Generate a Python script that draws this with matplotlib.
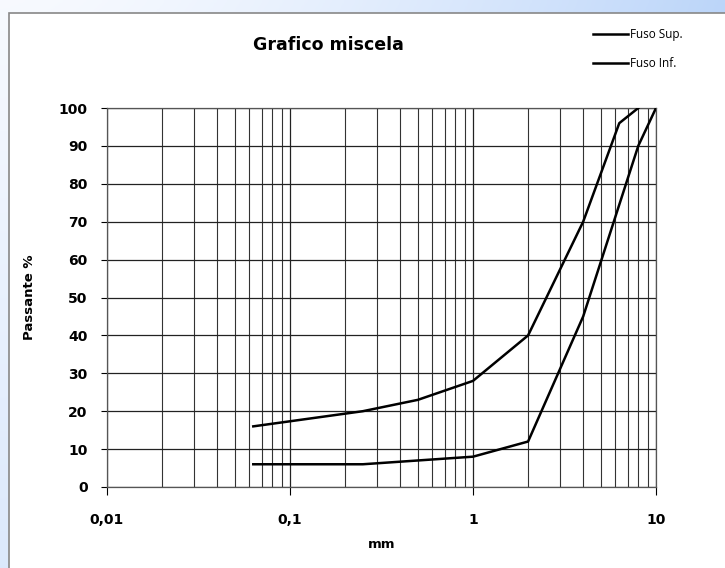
import numpy as np
import matplotlib.pyplot as plt
from matplotlib.ticker import FixedLocator, NullFormatter
from matplotlib.patches import Rectangle

# Fusi granulometrici (mm, passante %)
sup_mm = [0.063, 0.25, 0.5, 1, 2, 4, 6.3, 8]
sup_pass = [16, 20, 23, 28, 40, 70, 96, 100]
inf_mm = [0.063, 0.25, 0.5, 1, 2, 4, 8, 10]
inf_pass = [6, 6, 7, 8, 12, 45, 90, 100]

x_ticks = [0.01, 0.1, 1, 10]
x_labels = ["0,01", "0,1", "1", "10"]
y_ticks = list(range(0, 101, 10))

W, H = 725, 568
fig = plt.figure(figsize=(W / 100, H / 100), dpi=100)

# sfondo sfumato
bg = fig.add_axes([0, 0, 1, 1], zorder=-10)
gx = np.linspace(0, 1, 200)[None, :]
gy = np.linspace(0, 1, 200)[:, None]
t = np.clip(0.75 * gx ** 1.5 + 0.35 * gy, 0, 1)
c0 = np.array([0.97, 0.98, 1.0])
c1 = np.array([0.66, 0.79, 0.97])
img = c0[None, None, :] * (1 - t[..., None]) + c1[None, None, :] * t[..., None]
bg.imshow(img, aspect="auto", extent=[0, 1, 0, 1], origin="upper")
bg.add_patch(Rectangle((9 / W, -0.05), 1.1, 1.05 - 13 / H, facecolor="white",
                       edgecolor="#888888", linewidth=1.2))
bg.set_xlim(0, 1)
bg.set_ylim(0, 1)
bg.axis("off")

ax = fig.add_axes([107 / W, (H - 487) / H, (656 - 107) / W, (487 - 108) / H])
ax.set_xscale("log")
ax.set_xlim(0.01, 10)
ax.set_ylim(0, 100)

ax.plot(sup_mm, sup_pass, color="black", lw=1.8, label="Fuso Sup.", zorder=3)
ax.plot(inf_mm, inf_pass, color="black", lw=1.8, label="Fuso Inf.", zorder=3)

ax.xaxis.set_major_locator(FixedLocator(x_ticks))
ax.set_xticklabels(x_labels)
minors = [m * d for d in [0.01, 0.1, 1] for m in range(2, 10)]
ax.xaxis.set_minor_locator(FixedLocator(minors))
ax.xaxis.set_minor_formatter(NullFormatter())
ax.set_yticks(y_ticks)

ax.grid(which="major", axis="both", color="#222222", lw=0.9)
ax.grid(which="minor", axis="x", color="#333333", lw=0.8)
ax.tick_params(axis="x", which="major", direction="out", length=6, width=0.8,
               pad=13, labelsize=10)
ax.tick_params(axis="x", which="minor", length=0)
ax.tick_params(axis="y", direction="out", length=4, width=0.8, pad=10, labelsize=10)
for lab in ax.get_xticklabels() + ax.get_yticklabels():
    lab.set_fontweight("bold")
for s in ax.spines.values():
    s.set_color("#555555")
    s.set_linewidth(0.9)

ax.set_xlabel("mm", fontweight="bold", fontsize=9.5, labelpad=8)
ax.set_ylabel("Passante %", fontweight="bold", fontsize=9.5, labelpad=16)

fig.text(328 / W, 1 - 45 / H, "Grafico miscela", ha="center", va="center",
         fontsize=12.5, fontweight="bold")

fig.legend(loc="upper left", bbox_to_anchor=(588 / W, 1 - 23 / H), frameon=False,
           prop={"family": "Open Sans", "size": 8.5}, handlelength=3.0,
           handletextpad=0.2, labelspacing=1.35, borderaxespad=0)

fig.savefig("out.png", dpi=100)
